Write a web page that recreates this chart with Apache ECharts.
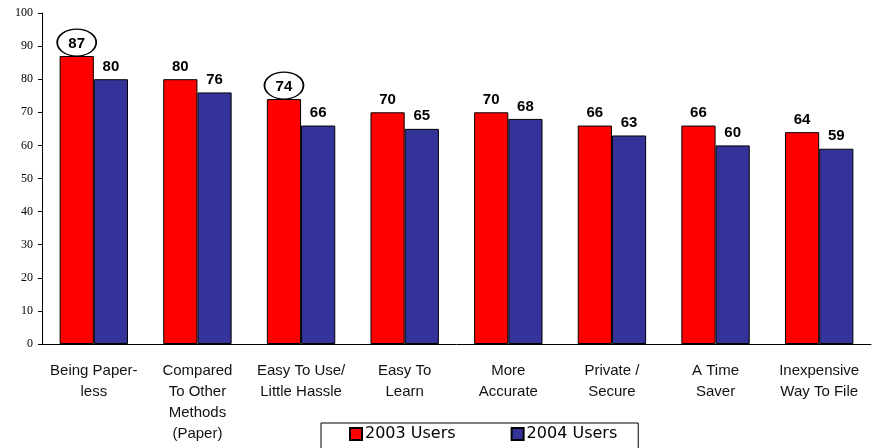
<!DOCTYPE html>
<html>
<head>
<meta charset="utf-8">
<script src="https://cdn.jsdelivr.net/npm/echarts@6/dist/echarts.min.js"></script>
<style>html,body{margin:0;padding:0;background:#fff;}#c{width:876px;height:448px;}</style>
</head>
<body>
<div id="c"></div>
<script>
var categories = ["Being Paper-\nless", "Compared\nTo Other\nMethods\n(Paper)", "Easy To Use/\nLittle Hassle", "Easy To\nLearn", "More\nAccurate", "Private /\nSecure", "A Time\nSaver", "Inexpensive\nWay To File"];
var users2003 = [87, 80, 74, 70, 70, 66, 66, 64];
var users2004 = [80, 76, 66, 65, 68, 63, 60, 59];
var circled = [0, 2];
var yTicks = [0, 10, 20, 30, 40, 50, 60, 70, 80, 90, 100];

var chart = echarts.init(document.getElementById('c'));
var barLabel = {show: true, position: 'top', distance: 5, fontFamily: 'Liberation Sans', fontWeight: 'bold', fontSize: 15, color: '#000'};
chart.setOption({
  animation: false,
  backgroundColor: '#fff',
  grid: {left: 42, right: 5, top: 13, bottom: 104},
  legend: {
    left: 321, top: 423,
    data: ['2003 Users', '2004 Users'],
    itemWidth: 12, itemHeight: 12, itemGap: 55,
    icon: 'rect',
    borderColor: '#000', borderWidth: 1,
    padding: [3, 21, 8, 28],
    textStyle: {fontFamily: 'DejaVu Sans', fontSize: 16, color: '#000', padding: [0, 0, 0, -2]}
  },
  xAxis: {
    type: 'category', data: categories,
    axisLine: {lineStyle: {color: '#000', width: 1}},
    axisTick: {show: false},
    axisLabel: {interval: 0, margin: 16, fontFamily: 'Liberation Sans', fontSize: 15, lineHeight: 21, color: '#111'}
  },
  yAxis: {
    type: 'value', min: yTicks[0], max: yTicks[yTicks.length - 1], interval: 10,
    axisLine: {show: true, lineStyle: {color: '#000', width: 1}},
    axisTick: {show: true, length: 4, lineStyle: {color: '#000'}},
    splitLine: {show: false},
    axisLabel: {margin: 9, fontFamily: 'Liberation Serif', fontSize: 12, color: '#000'}
  },
  series: [{
    name: '2003 Users', type: 'bar', data: users2003,
    barGap: '0%', barCategoryGap: '34%',
    itemStyle: {color: '#ff0000', borderColor: '#000', borderWidth: 1},
    label: barLabel,
    markPoint: {
      symbol: 'circle', symbolSize: [39, 27], symbolOffset: [0, '-50%'],
      itemStyle: {color: 'rgba(0,0,0,0)', borderColor: '#000', borderWidth: 1.5},
      label: {show: false},
      data: circled.map(function (i) { return {coord: [i, users2003[i]]}; })
    }
  }, {
    name: '2004 Users', type: 'bar', data: users2004,
    itemStyle: {color: '#333399', borderColor: '#000', borderWidth: 1},
    label: barLabel
  }]
});
</script>
</body>
</html>
